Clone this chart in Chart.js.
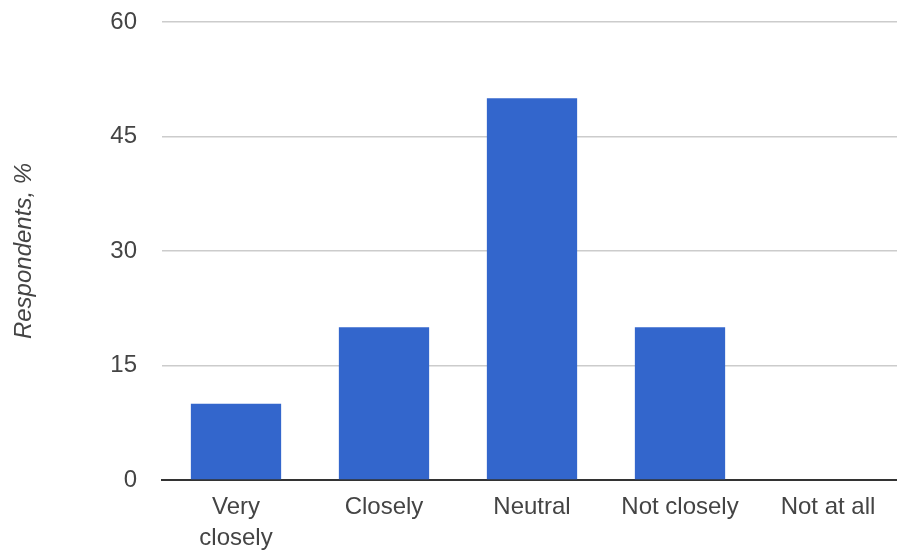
<!DOCTYPE html>
<html>
<head>
<meta charset="utf-8">
<script src="https://cdn.jsdelivr.net/npm/chart.js@4/dist/chart.umd.min.js"></script>
<style>
  html, body { margin: 0; padding: 0; background: #fff; overflow: hidden; }
  #wrap { width: 902px; height: 554px; }
</style>
</head>
<body>
<div id="wrap"><canvas id="chart" width="902" height="554"></canvas></div>
<script>
const categories = [['Very', 'closely'], 'Closely', 'Neutral', 'Not closely', 'Not at all'];
const respondents = [10, 20, 50, 20, 0];
const yTicks = [0, 15, 30, 45, 60];

const textColor = '#444';
const fontFamily = 'Arial, "Liberation Sans", sans-serif';

new Chart(document.getElementById('chart'), {
    type: 'bar',
    data: {
        labels: categories,
        datasets: [{
            label: 'Respondents, %',
            data: respondents,
            backgroundColor: '#3366cc',
            borderWidth: 0,
            categoryPercentage: 1,
            barPercentage: 0.61
        }]
    },
    options: {
        responsive: false,
        animation: false,
        layout: { padding: { top: 22, right: 0, left: 0, bottom: 0 } },
        plugins: {
            legend: { display: false },
            tooltip: { enabled: false }
        },
        scales: {
            x: {
                offset: true,
                grid: { display: false, drawTicks: false },
                border: { display: true, color: '#333', width: 2 },
                ticks: {
                    color: textColor,
                    padding: 12,
                    maxRotation: 0,
                    autoSkip: false,
                    font: { family: fontFamily, size: 24, lineHeight: 1.3 }
                },
                afterFit: scale => {
                    scale.height = 74;
                    scale.paddingLeft = 0;
                    scale.paddingRight = 0;
                }
            },
            y: {
                min: yTicks[0],
                max: yTicks[yTicks.length - 1],
                afterBuildTicks: scale => {
                    scale.ticks = yTicks.map(v => ({ value: v }));
                },
                grid: {
                    drawTicks: false,
                    color: ctx => ctx.tick && ctx.tick.value === 0 ? '#333' : '#cccccc',
                    lineWidth: 1.5
                },
                border: { display: false },
                ticks: {
                    color: textColor,
                    padding: 25,
                    font: { family: fontFamily, size: 24 }
                },
                title: {
                    display: true,
                    text: 'Respondents, %',
                    color: textColor,
                    padding: { top: 10, bottom: 0 },
                    font: { family: fontFamily, size: 24, style: 'italic' }
                },
                afterFit: scale => {
                    scale.width = 162;
                    scale.paddingTop = 0;
                    scale.paddingBottom = 0;
                }
            }
        }
    }
});
</script>
</body>
</html>
